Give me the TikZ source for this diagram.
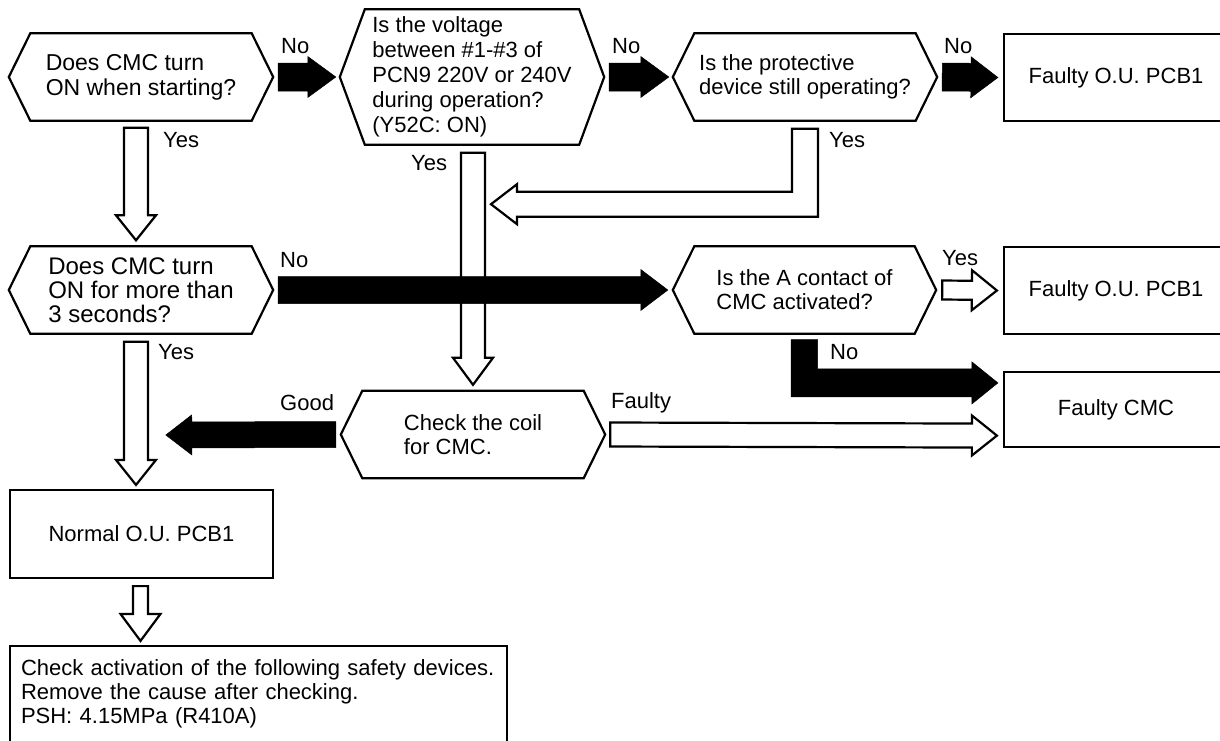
\documentclass[tikz,border=0pt]{standalone}
\usepackage{fontspec}
\setmainfont{Liberation Sans}
\usetikzlibrary{calc}

% hexagon outline round a (plain) node
\newcommand{\hexframe}[2][21.5pt]{\draw[hexline] (#2.west) -- ($(#2.north west)+(#1,0)$) -- ($(#2.north east)+(-#1,0)$)
  -- (#2.east) -- ($(#2.south east)+(-#1,0)$) -- ($(#2.south west)+(#1,0)$) -- cycle;}
\tikzset{arrow shaft/.store in=\asw, arrow head/.store in=\ahw, arrow len/.store in=\ahl,
  arrow shaft=12pt, arrow head=20pt, arrow len=25pt}
% block arrow from #2 to #3
\newcommand{\fatarrow}[3][]{\begin{scope}[#1]
  \path (#2) coordinate (fa-s) (#3) coordinate (fa-t);
  \path ($(fa-t)!\ahl!(fa-s)$) coordinate (fa-b);
  \draw[#1] ($(fa-s)!\asw!90:(fa-t)$) -- ($(fa-b)!\asw!90:(fa-t)$) -- ($(fa-b)!\ahw!90:(fa-t)$) -- (fa-t)
    -- ($(fa-b)!\ahw!-90:(fa-t)$) -- ($(fa-b)!\asw!-90:(fa-t)$) -- ($(fa-s)!\asw!-90:(fa-t)$) -- cycle;
  \end{scope}}

\begin{document}
\begin{tikzpicture}[x=1pt, y=-1pt, every node/.style={font=\fontsize{22}{24}\selectfont},
  hexa/.style={minimum width=264pt, minimum height=87pt, align=left, inner sep=0pt},
  box/.style={draw, line width=2.2pt, minimum width=224pt, minimum height=87pt, align=center, inner sep=0pt},
  hexline/.style={draw, line width=2.2pt, line join=miter},
  lbl/.style={anchor=west, inner sep=0pt},
  blk/.style={fill=black, draw=black, line width=0.5pt, line join=miter, arrow shaft=14pt, arrow head=20.5pt, arrow len=28pt},
  wht/.style={fill=white, draw=black, line width=2.2pt, line join=miter}]
  \useasboundingbox (0,0) rectangle (1220,740);
  \clip (0,0) rectangle (1220,740);
  % questions
  \node[hexa, font=\fontsize{23}{25}\selectfont] (q1) at (141,77) {Does CMC turn\\ON when starting?};
  \node[hexa, minimum height=135pt, font=\fontsize{22}{25}\selectfont] (q2) at (472,77) {Is the voltage\\between \#1-\#3 of\\PCN9 220V or 240V\\during operation?\\(Y52C: ON)};
  \node[hexa, minimum width=264pt] (q3) at (805,77) {Is the protective\\device still operating?};
  \node[hexa, font=\fontsize{24}{24}\selectfont] (q4) at (141,290) {Does CMC turn\\ON for more than\\3 seconds?};
  \node[hexa, minimum width=263pt] (q6) at (804.5,290) {Is the A contact of\\CMC activated?};
  \node[hexa] (q5) at (473,434.5) {Check the coil\\for CMC.};
  \hexframe[25pt]{q2}
  \foreach \q in {q1,q3,q4,q5,q6} {\hexframe{\q}}
  % results
  \node[box] (f1) at (1116,77.5) {Faulty O.U. PCB1};
  \node[box] (f2) at (1116,290.5) {Faulty O.U. PCB1};
  \node[box, minimum height=75pt] (f3) at (1116,409.5) {Faulty CMC};
  \node[box, minimum width=263pt, minimum height=88pt] (n1) at (141.5,534) {Normal O.U. PCB1};
  \node[box, minimum width=497pt, minimum height=96pt, text width=475pt, align=left] (n2) at (258.5,694)
    {Check activation of the following safety devices.\\Remove the cause after checking.\\PSH: 4.15MPa (R410A)};
  % arrows
  \fatarrow[blk]{$(q1.east)+(5,0)$}{$(q2.west)+(-4,0)$}
  \fatarrow[blk]{$(q2.east)+(5,0)$}{$(q3.west)+(-4,0)$}
  \fatarrow[blk, arrow len=27pt]{$(q3.east)+(5,0)$}{$(f1.west)+(-5,0)$}
  \fatarrow[wht]{$(q1.south)+(-5,7)$}{$(q4.north)+(-5,-6)$}
  \fatarrow[wht, arrow len=27pt]{$(q2.south)+(1,8)$}{$(q5.north)+(0,-6)$}
  \coordinate (y3s) at ($(q3.south)+(0,8)$);
  \coordinate (y3t) at ($(q2.south)+(19,59.5)$);
  \coordinate (y3c) at (y3s |- y3t);
  \draw[wht] ($(y3s)+(-13,0)$) -- ($(y3s)+(13,0)$) -- ($(y3c)+(13,12.5)$) -- ($(y3t)+(26,12.5)$) -- ($(y3t)+(26,20)$)
    -- (y3t) -- ($(y3t)+(26,-20)$) -- ($(y3t)+(26,-12.5)$) -- ($(y3c)+(-13,-12.5)$) -- cycle;
  \fatarrow[blk, arrow shaft=13.5pt, arrow len=27pt]{$(q4.east)+(5,0)$}{$(q6.west)+(-5,0)$}
  \fatarrow[wht, arrow shaft=9.5pt]{$(q6.east)+(6,0)$}{$(f2.west)+(-6,0)$}
  \fatarrow[wht]{$(q4.south)+(-5,8)$}{$(n1.north)+(-5.5,-4)$}
  \coordinate (n6s) at ($(q6.south)+(0,6)$);
  \coordinate (n6t) at ($(f3.north west)+(-5,12)$);
  \coordinate (n6c) at (n6s |- n6t);
  \draw[blk] ($(n6s)+(-13.5,0)$) -- ($(n6s)+(13,0)$) -- ($(n6c)+(13,-14)$) -- ($(n6t)+(-26,-14)$) -- ($(n6t)+(-26,-21)$)
    -- (n6t) -- ($(n6t)+(-26,21)$) -- ($(n6t)+(-26,14)$) -- ($(n6c)+(-13.5,14)$) -- cycle;
  \coordinate (g5t) at ($(q5.west)+(-175,0.5)$);
  \fatarrow[blk, arrow shaft=13pt, arrow head=20pt, arrow len=26pt]{$(q5.west)+(-5,0)$}{g5t}
  \fatarrow[wht]{$(q5.east)+(5,0)$}{$(f3.south west)+(-6,-12.5)$}
  \coordinate (n2in) at (n1.south |- n2.north);
  \fatarrow[wht, arrow shaft=7.5pt, arrow len=27pt]{$(n1.south)+(-1,7)$}{$(n2in)+(-1,-4)$}
  % labels
  \node[lbl] (l1) at (281,46) {No};
  \node[lbl] (l2) at (612,46) {No};
  \node[lbl] (l3) at (944,46) {No};
  \node[lbl] (l4) at (163,140) {Yes};
  \node[lbl] (l5) at (411,163) {Yes};
  \node[lbl] (l6) at (829,140) {Yes};
  \node[lbl] (l7) at (280,260) {No};
  \node[lbl] (l8) at (942,258) {Yes};
  \node[lbl] (l9) at (158,352) {Yes};
  \node[lbl] (l10) at (830,352) {No};
  \node[lbl] (l11) at (280,403) {Good};
  \node[lbl] (l12) at (611,403) {Faulty};
\end{tikzpicture}
\end{document}
